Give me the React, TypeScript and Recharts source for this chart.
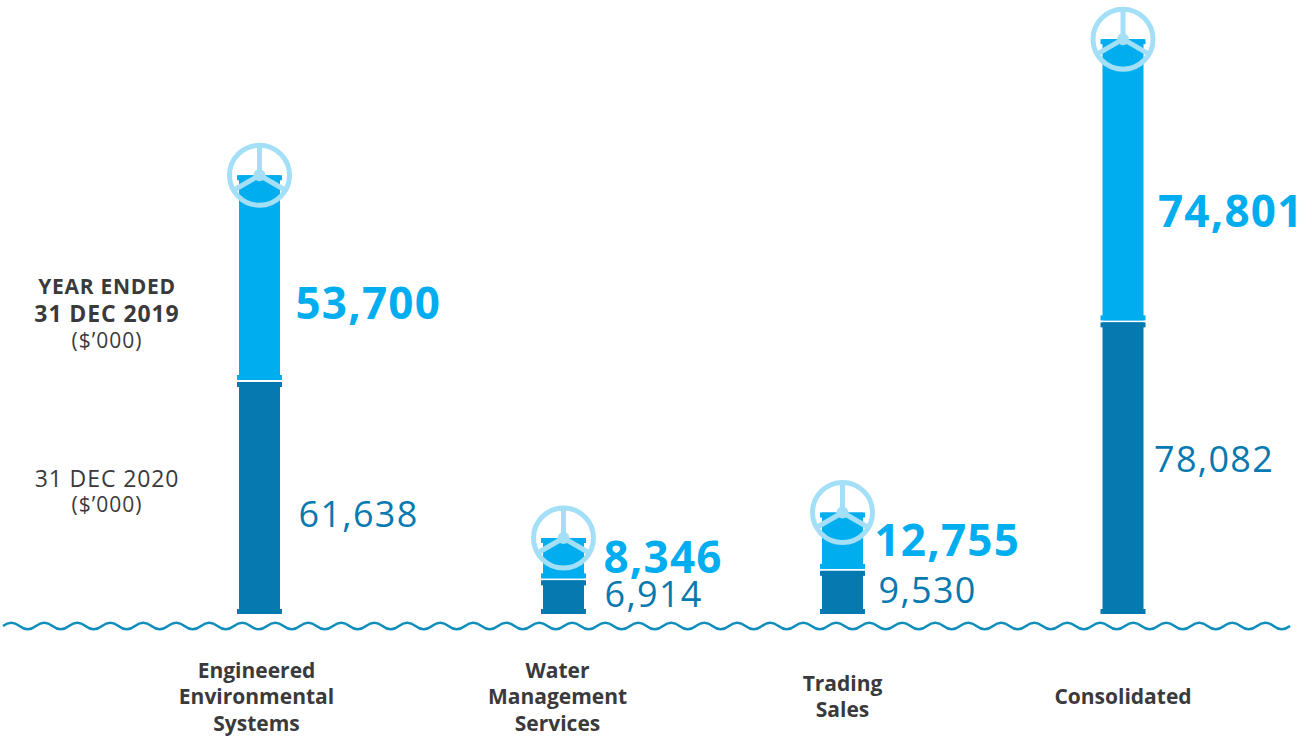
import React from 'react';
import { BarChart, Bar, XAxis, YAxis, LabelList } from 'recharts';

const categories = [
  ['Engineered', 'Environmental', 'Systems'],
  ['Water', 'Management', 'Services'],
  ['Trading', 'Sales'],
  ['Consolidated'],
];
const values2020 = [61638, 6914, 9530, 78082];
const values2019 = [53700, 8346, 12755, 74801];
const barCenters = [259.5, 563.5, 842.5, 1123];

// nudges of the text away from the bar, per category
const tickNudge = [-3, -6, 0, 0];
const label2020 = [{ dx: 39, y: 513 }, { dx: 41, y: 593 }, { dx: 36, y: 589 }, { dx: 31, y: 458 }];
const label2019 = [{ dx: 36, y: 302 }, { dx: 40, y: 556 }, { dx: 32, y: 539 }, { dx: 35, y: 210 }];

const LIGHT = '#00aeef';
const DARK = '#0679b0';
const WHEEL = '#a3dff7';
const FONT = '"Open Sans", sans-serif';

const BODY_W = 41;
const CAP_W = 45;
const CAP_H = 5;
// each segment is drawn a little taller than its value, for the caps
const DARK_PAD = 9.6;
const LIGHT_PAD = 20.7;
const GAP = 2;

const data = categories.map((name, i) => ({
  center: barCenters[i],
  name,
  y2020: values2020[i],
  y2019: values2019[i],
}));

const DarkSegment = (props: any) => {
  const { x, y, width, height } = props;
  const cx = x + width / 2;
  const top = y - DARK_PAD + GAP / 2;
  const bottom = y + height;
  return (
    <g>
      <rect x={cx - BODY_W / 2} y={top} width={BODY_W} height={bottom - top} fill={DARK} />
      <rect x={cx - CAP_W / 2} y={top} width={CAP_W} height={CAP_H} fill={DARK} />
      <rect x={cx - CAP_W / 2} y={bottom - CAP_H} width={CAP_W} height={CAP_H} fill={DARK} />
    </g>
  );
};

const LightSegment = (props: any) => {
  const { x, y, width, height } = props;
  const cx = x + width / 2;
  const bottom = y + height - DARK_PAD - GAP / 2;
  const top = y - LIGHT_PAD;
  const spoke = (deg: number) => {
    const a = (deg * Math.PI) / 180;
    return <line x1={cx} y1={top} x2={cx + 30 * Math.cos(a)} y2={top + 30 * Math.sin(a)} stroke={WHEEL} strokeWidth={5} />;
  };
  return (
    <g>
      <rect x={cx - BODY_W / 2} y={top} width={BODY_W} height={bottom - top} fill={LIGHT} />
      <rect x={cx - CAP_W / 2} y={top} width={CAP_W} height={CAP_H} fill={LIGHT} />
      <rect x={cx - CAP_W / 2} y={bottom - CAP_H} width={CAP_W} height={CAP_H} fill={LIGHT} />
      <circle cx={cx} cy={top} r={30} fill="none" stroke={WHEEL} strokeWidth={5} />
      {spoke(-90)}
      {spoke(30)}
      {spoke(150)}
      <circle cx={cx} cy={top} r={6} fill={WHEEL} />
    </g>
  );
};

const CategoryTick = (props: any) => {
  const { x, index } = props;
  const lines = categories[index];
  const firstY = 704 - ((lines.length - 1) * 26.5) / 2;
  return (
    <text x={x + tickNudge[index]} textAnchor="middle" fontFamily={FONT} fontWeight={700} fontSize={21} fill="#3a3a3c">
      {lines.map((l, i) => (
        <tspan key={i} x={x + tickNudge[index]} y={firstY + i * 26.5}>{l}</tspan>
      ))}
    </text>
  );
};

const valueLabel = (pos: { dx: number; y: number }[], big: boolean) => (props: any) => {
  const { x, width, index, value } = props;
  const p = pos[index];
  return (
    <text
      x={x + width / 2 + p.dx}
      y={p.y}
      dominantBaseline="central"
      fontFamily={FONT}
      fontSize={big ? 44 : 36}
      letterSpacing={big ? 1.2 : 1.3}
      fontWeight={big ? 700 : 400}
      fill={big ? LIGHT : DARK}
    >
      {value.toLocaleString('en-US')}
    </text>
  );
};

// wavy water line under the bars
const wavePath = () => {
  const half = 16.5;
  const y = 626;
  let d = `M 3 ${y}`;
  for (let x = 3, up = true; x + half <= 1292; x += half, up = !up) {
    d += ` Q ${x + half / 2} ${y + (up ? -6.4 : 6.4)} ${x + half} ${y}`;
  }
  return d;
};

const sideText = [
  { t: 'YEAR ENDED', y: 286, w: 700, s: 21, ls: 0.7 },
  { t: '31 DEC 2019', y: 313, w: 700, s: 23, ls: 0.9 },
  { t: '($’000)', y: 340, w: 400, s: 21, ls: 1 },
  { t: '31 DEC 2020', y: 478, w: 400, s: 23, ls: 0.9 },
  { t: '($’000)', y: 504, w: 400, s: 21, ls: 1 },
];

export default function App() {
  return (
    <div style={{ position: 'absolute', left: 0, top: 0, background: '#fff' }}>
      <BarChart width={1314} height={737} data={data} margin={{ top: 0, right: 0, bottom: 0, left: 0 }}>
        <XAxis
          dataKey="center"
          type="number"
          domain={[0, 1314]}
          ticks={barCenters}
          interval={0}
          height={123}
          axisLine={false}
          tickLine={false}
          tick={<CategoryTick />}
        />
        <YAxis hide domain={[0, 169400]} />
        <Bar dataKey="y2020" stackId="a" barSize={41} shape={<DarkSegment />} isAnimationActive={false}>
          <LabelList dataKey="y2020" content={valueLabel(label2020, false)} />
        </Bar>
        <Bar dataKey="y2019" stackId="a" barSize={41} shape={<LightSegment />} isAnimationActive={false}>
          <LabelList dataKey="y2019" content={valueLabel(label2019, true)} />
        </Bar>
        <path d={wavePath()} fill="none" stroke="#0f8dbb" strokeWidth={2.5} />
        {sideText.map((s, i) => (
          <text key={i} x={107} y={s.y} dominantBaseline="central" textAnchor="middle" fontFamily={FONT} fontWeight={s.w} fontSize={s.s} letterSpacing={s.ls} fill="#3a3a3c">
            {s.t}
          </text>
        ))}
      </BarChart>
    </div>
  );
}
